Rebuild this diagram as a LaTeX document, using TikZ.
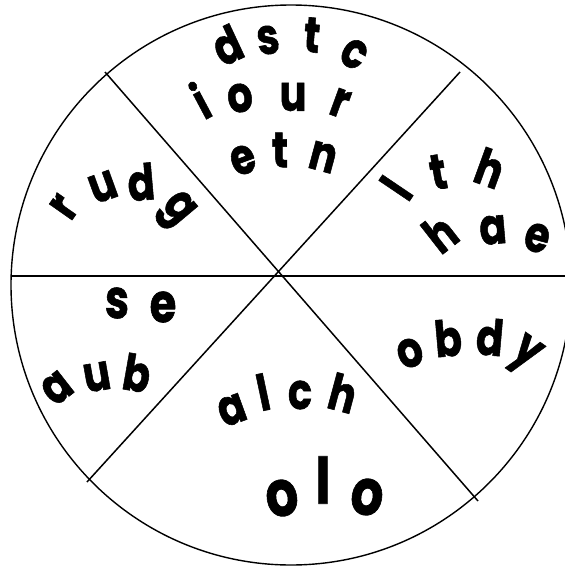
\documentclass[tikz,border=0pt]{standalone}
\usepackage{fontspec}
\newfontfamily\wf{Poppins}[BoldFeatures={FakeBold=1.2}]
\tikzset{
  ltr/.style={inner sep=0pt, anchor=center, font=\wf\bfseries\fontsize{50}{54}\selectfont},
  mid/.style={font=\wf\bfseries\fontsize{54}{58}\selectfont},
  big/.style={font=\wf\bfseries\fontsize{64}{68}\selectfont},
  rim/.style={line width=1.4pt},
  spoke/.style={line width=1.5pt},
}
\newcommand{\nl}[1]{\scalebox{0.8}[1]{#1}}
\begin{document}
\begin{tikzpicture}[x=1pt,y=-1pt]
\useasboundingbox (0,0) rectangle (565,568);
\node[circle, draw, rim, minimum size=560pt, inner sep=0pt] (wheel) at (291,285) {};
\coordinate (hl) at (11,276);
\coordinate (hr) at (565,276);
\coordinate (a1) at (105,72);
\coordinate (a2) at (478,501);
\coordinate (b1) at (460,72);
\coordinate (b2) at (87,482);
\draw[line width=2pt] (hl) -- (hr);
\draw[spoke] (a1) -- (a2);
\draw[spoke] (b1) -- (b2);
% top sector
\node[ltr, rotate=25] (d1) at (227,45) {\nl{d}};
\node[ltr, rotate=10] (s1) at (268,40) {\nl{s}};
\node[ltr, rotate=-5] (t1) at (312,35) {\nl{t}};
\node[ltr, rotate=-30] (c1) at (354,54) {\nl{c}};
\node[ltr, rotate=28] (i1) at (200,100) {\nl{i}};
\node[ltr, rotate=10] (o1) at (240,98) {\nl{o}};
\node[ltr, rotate=0] (u1) at (293,97) {\nl{u}};
\node[ltr, rotate=-20] (r1) at (340,103) {\nl{r}};
\node[ltr, rotate=20] (e1) at (243,160) {\nl{e}};
\node[ltr, rotate=0] (t2) at (280,150) {\nl{t}};
\node[ltr, rotate=-15] (n1) at (323,157) {\nl{n}};
% upper right
\node[ltr, rotate=56] (l1) at (396,188) {\nl{l}};
\node[ltr, rotate=10] (t3) at (438,172) {\nl{t}};
\node[ltr, rotate=-20] (h1) at (490,168) {\nl{h}};
\node[ltr, rotate=38] (h2) at (440,233) {\nl{h}};
\node[ltr, rotate=5] (a3) at (493,230) {\nl{a}};
\node[ltr, rotate=-15] (e2) at (537,238) {\nl{e}};
% upper left
\node[ltr, rotate=55] (r2) at (64,207) {\nl{r}};
\node[ltr, rotate=20] (u2) at (103,187) {\nl{u}};
\node[ltr, rotate=5] (d2) at (141,182) {\nl{d}};
\node[ltr, rotate=-50] (g1) at (175,211) {\nl{g}};
% lower left
\node[ltr, mid] (s2) at (117,303) {\nl{s}};
\node[ltr, mid] (e3) at (163,307) {\nl{e}};
\node[ltr, rotate=38] (a4) at (57,388) {\nl{a}};
\node[ltr, rotate=10] (u3) at (97,377) {\nl{u}};
\node[ltr, rotate=-10] (b3) at (137,373) {\nl{b}};
% lower right
\node[ltr, rotate=20] (o2) at (410,353) {\nl{o}};
\node[ltr, rotate=5] (b4) at (448,338) {\nl{b}};
\node[ltr, rotate=-5] (d3) at (490,337) {\nl{d}};
\node[ltr, rotate=-35] (y1) at (524,356) {\nl{y}};
% bottom
\node[ltr, rotate=20] (a5) at (232,410) {\nl{a}};
\node[ltr, rotate=12] (l2) at (263,392) {\nl{l}};
\node[ltr, rotate=0] (c2) at (300,395) {\nl{c}};
\node[ltr, rotate=-15] (h3) at (343,393) {\nl{h}};
\node[ltr, big, rotate=10] (o3) at (282,498) {\nl{o}};
\node[ltr, big, rotate=0] (l3) at (323,480) {\nl{l}};
\node[ltr, big, rotate=-10] (o4) at (367,497) {\nl{o}};
\end{tikzpicture}
\end{document}
